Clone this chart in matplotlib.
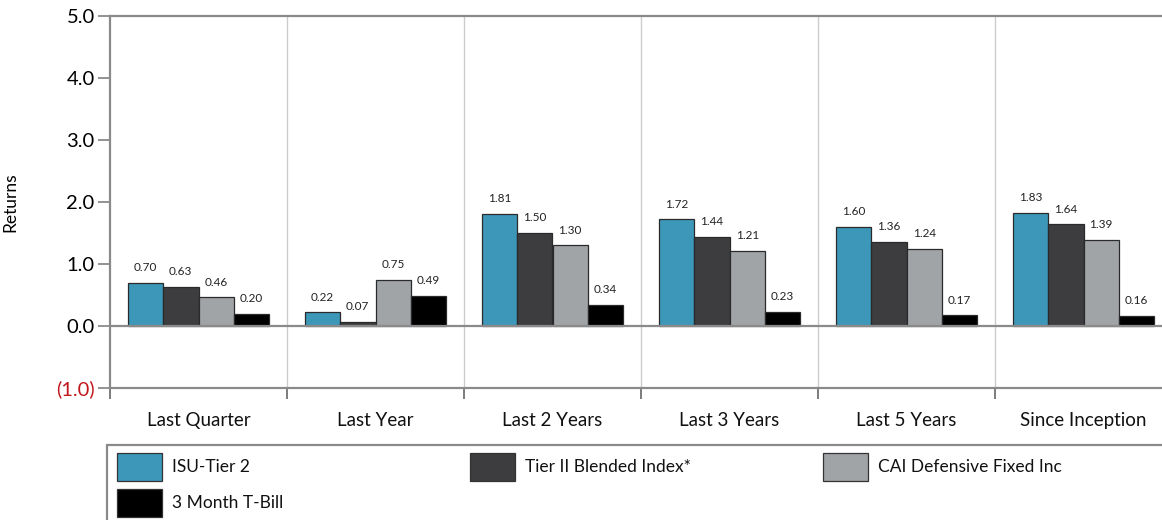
import numpy as np
import matplotlib
matplotlib.use('Agg')
import matplotlib.pyplot as plt
from matplotlib.patches import Rectangle

plt.rcParams['font.family'] = ['Lato', 'DejaVu Sans']

# ── data ─────────────────────────────────────────────
periods = ['Last Quarter', 'Last Year', 'Last 2 Years',
           'Last 3 Years', 'Last 5 Years', 'Since Inception']
series_names = ['ISU-Tier 2', 'Tier II Blended Index*',
                'CAI Defensive Fixed Inc', '3 Month T-Bill']
isu_tier2   = [0.70, 0.22, 1.81, 1.72, 1.60, 1.83]
tier2_blend = [0.63, 0.07, 1.50, 1.44, 1.36, 1.64]
cai_def     = [0.46, 0.75, 1.30, 1.21, 1.24, 1.39]
tbill       = [0.20, 0.49, 0.34, 0.23, 0.17, 0.16]
y_ticks  = [-1.0, 0.0, 1.0, 2.0, 3.0, 4.0, 5.0]
y_labels = ['(1.0)', '0.0', '1.0', '2.0', '3.0', '4.0', '5.0']

colors = ['#3d97b9', '#3d3c3f', '#a1a4a7', '#000000']
values = [isu_tier2, tier2_blend, cai_def, tbill]

W, H = 1162, 520
fig = plt.figure(figsize=(W / 100, H / 100), dpi=100)
# axes runs slightly past the right edge, like the source
ax = fig.add_axes([110 / W, (H - 388) / H, (1172 - 110) / W, (388 - 16) / H])

x = np.arange(len(periods))
bw = 0.2
for i, (vals, c) in enumerate(zip(values, colors)):
    pos = x - 0.3 + i * bw
    ax.bar(pos, vals, width=bw, color=c, edgecolor='#2a2a2a', linewidth=0.9, zorder=3)
    for p, v in zip(pos, vals):
        ax.annotate(f'{v:.2f}', (p, v), xytext=(0, 7), textcoords='offset points',
                    ha='center', va='bottom', fontsize=8.5, color='#222222')

ax.set_xlim(-0.5, len(periods) - 0.5)
ax.set_ylim(-1.0, 5.0)

# group separators
for b in np.arange(0.5, len(periods) - 0.5, 1.0):
    ax.axvline(b, color='#cccccc', linewidth=1, zorder=1)
ax.axhline(0, color='#8a8a8a', linewidth=1.6, zorder=4)

ax.set_xticks(x)
ax.set_xticklabels(periods, fontsize=13.5)
ax.set_xticks(np.arange(-0.5, len(periods), 1.0), minor=True)
ax.tick_params(axis='x', which='major', length=0, pad=17, colors='#111111')
ax.tick_params(axis='x', which='minor', length=8, width=1.2, color='#666666')

ax.set_yticks(y_ticks)
ax.set_yticklabels(y_labels, fontsize=14.5)
ax.tick_params(axis='y', length=9, width=1.2, color='#808080', pad=2)
ax.get_yticklabels()[0].set_color('#c0161c')
ax.set_ylabel('Returns', fontsize=12.5)
ax.yaxis.set_label_coords((18 - 110) / 1062, 0.5)

for s in ['left', 'top', 'bottom']:
    ax.spines[s].set_color('#8a8a8a')
    ax.spines[s].set_linewidth(1.6)
ax.spines['right'].set_visible(False)

# ── legend box ───────────────────────────────────────
fig.patches.append(Rectangle((107 / W, -0.05), 1.1, (H - 445) / H + 0.05,
                             transform=fig.transFigure, fill=False,
                             edgecolor='#8a8a8a', linewidth=1.6))
leg_x = [117, 470, 823, 117]
leg_y = [453, 453, 453, 489]
for name, c, lx, ly in zip(series_names, colors, leg_x, leg_y):
    fig.patches.append(Rectangle((lx / W, (H - ly - 28) / H), 45 / W, 28 / H,
                                 transform=fig.transFigure, facecolor=c,
                                 edgecolor='#333333', linewidth=0.9))
    fig.text((lx + 55) / W, (H - ly - 14) / H, name, fontsize=12.5,
             va='center', ha='left', color='#111111')

fig.savefig('out.png', dpi=100)
